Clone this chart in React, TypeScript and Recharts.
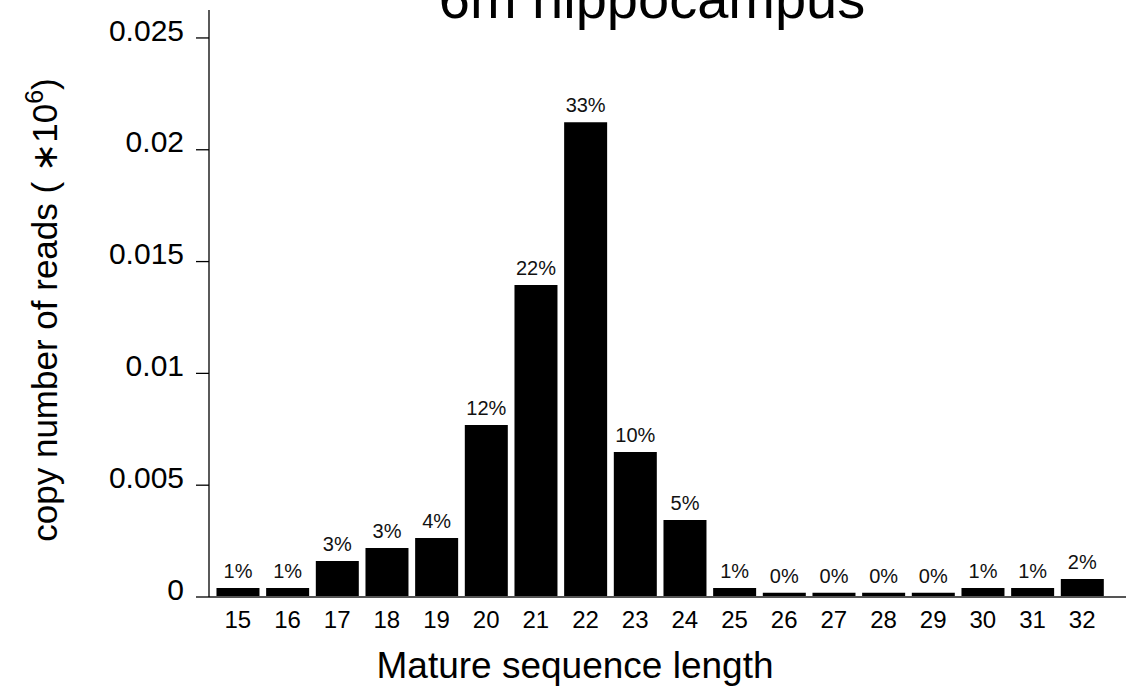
import React from "react";
import { BarChart, Bar, XAxis, YAxis, LabelList } from "recharts";

// read-length distribution, 6m hippocampus
const lengths = ["15", "16", "17", "18", "19", "20", "21", "22", "23", "24", "25", "26", "27", "28", "29", "30", "31", "32"];
const reads = [0.0004, 0.0004, 0.00161, 0.00219, 0.00264, 0.00769, 0.01395, 0.02123, 0.00648, 0.00344, 0.0004, 0.00019, 0.00019, 0.00019, 0.00019, 0.0004, 0.0004, 0.0008];
const shares = ["1%", "1%", "3%", "3%", "4%", "12%", "22%", "33%", "10%", "5%", "1%", "0%", "0%", "0%", "0%", "1%", "1%", "2%"];
const yTicks = [0, 0.005, 0.01, 0.015, 0.02, 0.025];

const data = lengths.map((len, i) => ({ len, reads: reads[i], share: shares[i] }));

const FONT = "'Liberation Sans', Arial, Helvetica, sans-serif";

export default function App() {
  return (
    <div style={{ position: "absolute", left: 0, top: 0, width: 1126, height: 692, background: "#fff", fontFamily: FONT }}>
      <BarChart
        width={1126}
        height={692}
        data={data}
        margin={{ top: 10, right: 0, bottom: 55, left: 0 }}
        barCategoryGap="7%"
      >
        <XAxis
          dataKey="len"
          height={40}
          padding={{ left: 4, right: 19 }}
          axisLine={{ stroke: "#555", strokeWidth: 2 }}
          tickLine={false}
          tickSize={0}
          tickMargin={14}
          tick={{ fill: "#000", fontSize: 24, fontFamily: FONT }}
          interval={0}
        />
        <YAxis
          width={209}
          domain={[0, 0.02625]}
          ticks={yTicks}
          allowDataOverflow
          axisLine={{ stroke: "#000", strokeWidth: 1.3 }}
          tickLine={{ stroke: "#000", strokeWidth: 1.3 }}
          tickSize={13}
          tickMargin={12}
          tick={{ fill: "#000", fontSize: 30, fontFamily: FONT, dy: -8 }}
          tickFormatter={(v: number) => String(v)}
        />
        <Bar dataKey="reads" fill="#000" isAnimationActive={false}>
          <LabelList
            dataKey="share"
            position="top"
            offset={10}
            style={{ fill: "#111", fontSize: 20, fontFamily: FONT }}
          />
        </Bar>
      </BarChart>

      <svg
        width={1126}
        height={692}
        style={{ position: "absolute", left: 0, top: 0, pointerEvents: "none" }}
      >
        <text x={652} y={18} textAnchor="middle" fontSize={56} fontFamily={FONT} fill="#000">
          6m hippocampus
        </text>
        <text x={575} y={678} textAnchor="middle" fontSize={37} fontFamily={FONT} fill="#000">
          Mature sequence length
        </text>
        <text
          transform="translate(57,310) rotate(-90)"
          textAnchor="middle"
          fontSize={35}
          fontFamily={FONT}
          fill="#000"
        >
          copy number of reads ( <tspan fontFamily="'DejaVu Sans', sans-serif">∗</tspan>10
          <tspan dy={-14} fontSize={25}>6</tspan>
          <tspan dy={14}>)</tspan>
        </text>
      </svg>
    </div>
  );
}
